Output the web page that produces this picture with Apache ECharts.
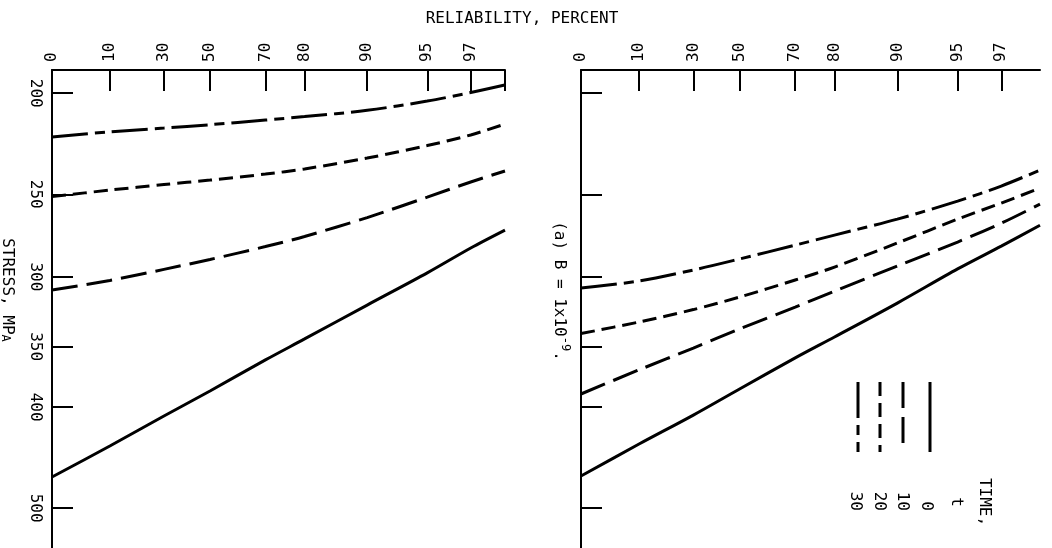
<!DOCTYPE html>
<html>
<head>
<meta charset="utf-8">
<title>Reliability vs stress</title>
<script src="https://cdn.jsdelivr.net/npm/echarts@6/dist/echarts.min.js"></script>
<style>
  html, body { margin: 0; padding: 0; background: #fff; }
  #chart { width: 1052px; height: 548px; }
</style>
</head>
<body>
<div id="chart"></div>
<script>
// ---- data ----------------------------------------------------------------
// Reliability (percent) at which each curve is sampled
const reliabilityLeft  = [1, 10, 30, 50, 70, 80, 90, 95, 97, 98];
const reliabilityRight = [1, 10, 30, 50, 70, 80, 90, 95, 97, 98.1];

// Time t of each curve
const times = [0, 10, 20, 30];

// Stress, MPa, left panel, one array per time
const stressLeftT0  = [466.8, 435.9, 407.9, 386.0, 360.4, 344.1, 319.3, 297.4, 281.5, 270.6];
const stressLeftT10 = [308.9, 302.4, 295.1, 288.7, 280.6, 274.4, 263.2, 251.6, 243.3, 237.5];
const stressLeftT20 = [251.3, 247.7, 244.7, 242.3, 239.1, 236.4, 230.8, 224.5, 219.3, 214.1];
const stressLeftT30 = [220.3, 217.8, 216.0, 214.4, 212.2, 210.6, 207.7, 203.5, 199.7, 196.4];

// Stress, MPa, right panel
const stressRightT0  = [465.7, 434.0, 407.1, 384.3, 358.8, 342.6, 317.9, 294.8, 280.3, 267.7];
const stressRightT10 = [388.6, 368.4, 351.1, 336.6, 320.7, 309.6, 292.9, 277.8, 266.5, 255.5];
const stressRightT20 = [340.0, 331.5, 322.5, 313.7, 302.1, 293.6, 278.4, 264.1, 254.9, 246.6];
const stressRightT30 = [307.5, 302.8, 295.5, 288.4, 279.7, 273.6, 264.1, 253.8, 245.5, 237.0];

// Axis tick labels
const reliabilityTicks = [0, 10, 30, 50, 70, 80, 90, 95, 97];
const stressTicks = [200, 250, 300, 350, 400, 500];

// ---- scales --------------------------------------------------------------
// Weibull probability scale for reliability, logarithmic scale for stress
const toU = p => -Math.log(-Math.log(p / 100));
const U_START = toU(1);                 // the "0" label sits at the axis start
const tickPos = p => (p === 0 ? U_START : toU(p));
const toLog = s => Math.log10(s);

const uMaxLeft = toU(reliabilityLeft[reliabilityLeft.length - 1]);
const uMaxRight = toU(reliabilityRight[reliabilityRight.length - 1]);
const logMin = toLog(190);
const logMax = toLog(546);

const FONT = '"DejaVu Sans Mono", "Liberation Mono", monospace';
const INK = '#000';

const dashByTime = {
  0: 'solid',
  10: [26, 9],
  20: [14, 7],
  30: [36, 7, 10, 7]
};

const stressLeft = { 0: stressLeftT0, 10: stressLeftT10, 20: stressLeftT20, 30: stressLeftT30 };
const stressRight = { 0: stressRightT0, 10: stressRightT10, 20: stressRightT20, 30: stressRightT30 };

function relLabel(v) {
  for (const p of reliabilityTicks) {
    if (Math.abs(tickPos(p) - v) < 1e-6) return String(p);
  }
  return '';
}

function xAxisFor(gridIndex, uMax, endTick) {
  const tickVals = reliabilityTicks.map(tickPos);
  return {
    type: 'value',
    gridIndex,
    position: 'top',
    min: U_START,
    max: uMax,
    axisLine: { show: true, onZero: false, lineStyle: { color: INK, width: 2 } },
    axisTick: {
      show: true, inside: true, length: 21,
      customValues: endTick ? tickVals.concat([uMax]) : tickVals,
      lineStyle: { color: INK, width: 2 }
    },
    axisLabel: {
      show: true, rotate: -90, margin: 8,
      customValues: tickVals,
      formatter: v => relLabel(v),
      color: INK, fontFamily: FONT, fontSize: 16,
      showMinLabel: true, showMaxLabel: true
    },
    splitLine: { show: false }
  };
}

function yAxisFor(gridIndex, showLabels) {
  const vals = stressTicks.map(toLog);
  return {
    type: 'value',
    gridIndex,
    inverse: true,
    min: logMin,
    max: logMax,
    axisLine: { show: true, onZero: false, lineStyle: { color: INK, width: 2 } },
    axisTick: {
      show: true, inside: true, length: 21,
      customValues: vals,
      lineStyle: { color: INK, width: 2 }
    },
    axisLabel: {
      show: showLabels, rotate: -90, margin: 9,
      customValues: vals,
      formatter: v => String(Math.round(Math.pow(10, v))),
      color: INK, fontFamily: FONT, fontSize: 16
    },
    splitLine: { show: false }
  };
}

function curve(panel, t, rel, stress) {
  return {
    type: 'line',
    name: 't = ' + t,
    xAxisIndex: panel,
    yAxisIndex: panel,
    data: rel.map((r, i) => [toU(r), toLog(stress[i])]),
    showSymbol: false,
    smooth: 0.3,
    silent: true,
    lineStyle: { color: INK, width: 3, type: dashByTime[t], cap: 'butt' }
  };
}

const series = [];
times.forEach(t => series.push(curve(0, t, reliabilityLeft, stressLeft[t])));
times.forEach(t => series.push(curve(1, t, reliabilityRight, stressRight[t])));

// Legend: vertical line samples with rotated labels
const legendX = { 0: 930, 10: 903, 20: 880, 30: 858 };
const legendLabelX = { 0: 926, 10: 902, 20: 879, 30: 855 };
const graphics = [];
times.forEach(t => {
  graphics.push({
    type: 'line', silent: true,
    shape: { x1: legendX[t], y1: 382, x2: legendX[t], y2: 452 },
    style: {
      stroke: INK, lineWidth: 3,
      lineDash: dashByTime[t] === 'solid' ? null : dashByTime[t]
    }
  });
  graphics.push({
    type: 'text', silent: true, x: legendLabelX[t], y: 511, rotation: -Math.PI / 2,
    style: {
      text: String(t), font: '16px ' + FONT, fill: INK,
      align: 'right', verticalAlign: 'middle', textAlign: 'right', textVerticalAlign: 'middle'
    }
  });
});
graphics.push({
  type: 'text', silent: true, x: 956, y: 502, rotation: -Math.PI / 2,
  style: { text: 't', font: '16px ' + FONT, fill: INK,
    align: 'center', verticalAlign: 'middle', textAlign: 'center', textVerticalAlign: 'middle' }
});
graphics.push({
  type: 'text', silent: true, x: 984, y: 502, rotation: -Math.PI / 2,
  style: { text: 'TIME,', font: '16px ' + FONT, fill: INK,
    align: 'center', verticalAlign: 'middle', textAlign: 'center', textVerticalAlign: 'middle' }
});

// Axis titles and panel caption
graphics.push({
  type: 'text', silent: true, x: 522, y: 19,
  style: { text: 'RELIABILITY, PERCENT', font: '16px ' + FONT, fill: INK,
    align: 'center', verticalAlign: 'middle', textAlign: 'center', textVerticalAlign: 'middle' }
});
graphics.push({
  type: 'text', silent: true, x: 7, y: 290, rotation: -Math.PI / 2,
  style: {
    text: 'STRESS, MP{s|A}', font: '16px ' + FONT, fill: INK,
    align: 'center', verticalAlign: 'middle', textAlign: 'center', textVerticalAlign: 'middle',
    rich: { s: { fontFamily: FONT, fontSize: 12, fill: INK, verticalAlign: 'bottom' } }
  }
});
graphics.push({
  type: 'text', silent: true, x: 559, y: 291, rotation: -Math.PI / 2,
  style: {
    text: '(a) B = 1x10{sup|-9}.', font: '16px ' + FONT, fill: INK, lineHeight: 24,
    align: 'center', verticalAlign: 'middle', textAlign: 'center', textVerticalAlign: 'middle',
    rich: { sup: { fontFamily: FONT, fontSize: 12, lineHeight: 12, fill: INK, verticalAlign: 'top' } }
  }
});

const chart = echarts.init(document.getElementById('chart'), null, { renderer: 'canvas' });
chart.setOption({
  animation: false,
  backgroundColor: '#fff',
  grid: [
    { left: 52, top: 70, width: 453, height: 478, outerBoundsMode: 'none', containLabel: false },
    { left: 581, top: 70, width: 459, height: 478, outerBoundsMode: 'none', containLabel: false }
  ],
  xAxis: [xAxisFor(0, uMaxLeft, true), xAxisFor(1, uMaxRight, false)],
  yAxis: [yAxisFor(0, true), yAxisFor(1, false)],
  series,
  graphic: graphics
});
</script>
</body>
</html>
